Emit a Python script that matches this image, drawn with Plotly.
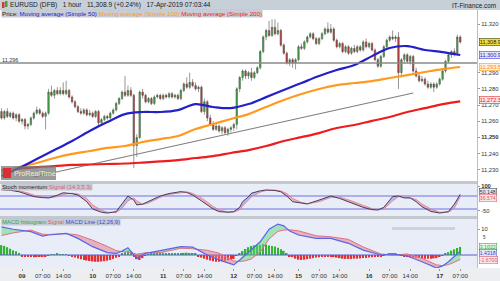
import plotly.graph_objects as go

# ------------------------------------------------------------------ data
bar_index = list(range(157))
opens = [11266,11262,11266,11263,11265,11262,11264,11260,11261,11257,
         11258,11262,11265,11267,11265,11263,11265,11278,11276,11279,
         11277,11279,11277,11279,11275,11272,11269,11266,11265,11267,
         11264,11265,11263,11266,11259,11261,11263,11262,11265,11267,
         11271,11274,11278,11276,11279,11276,11245,11250,11278,11276,
         11272,11274,11271,11275,11276,11274,11276,11275,11277,11275,
         11276,11274,11279,11283,11281,11284,11282,11280,11281,11266,
         11272,11262,11258,11255,11257,11254,11256,11253,11255,11256,
         11258,11280,11287,11291,11288,11290,11287,11290,11293,11303,
         11312,11316,11313,11318,11314,11316,11307,11302,11296,11298,
         11296,11298,11306,11305,11309,11312,11314,11311,11308,11311,
         11314,11317,11315,11317,11310,11306,11308,11303,11306,11302,
         11305,11303,11306,11304,11309,11306,11308,11304,11298,11294,
         11300,11306,11310,11312,11311,11312,11290,11298,11301,11297,
         11300,11291,11288,11285,11286,11283,11281,11283,11281,11283,
         11286,11291,11297,11301,11303,11302,11312]
highs = [11268,11267,11268,11266,11266,11265,11265,11262,11262,11259,
         11263,11266,11269,11268,11266,11266,11280,11282,11280,11281,
         11281,11284,11285,11280,11276,11273,11270,11268,11268,11268,
         11267,11266,11267,11267,11262,11264,11264,11266,11268,11272,
         11275,11279,11288,11282,11281,11277,11252,11279,11280,11277,
         11275,11275,11276,11277,11277,11277,11277,11278,11278,11277,
         11277,11280,11284,11287,11290,11286,11284,11282,11282,11274,
         11273,11264,11260,11259,11258,11257,11257,11256,11257,11259,
         11281,11288,11292,11292,11291,11293,11291,11294,11304,11313,
         11317,11322,11323,11323,11321,11317,11308,11303,11299,11299,
         11299,11307,11308,11310,11313,11315,11315,11312,11312,11315,
         11318,11321,11320,11318,11311,11309,11309,11307,11307,11306,
         11307,11307,11307,11310,11311,11309,11309,11305,11299,11301,
         11307,11311,11313,11316,11313,11315,11299,11302,11302,11301,
         11301,11293,11290,11288,11287,11285,11284,11284,11284,11287,
         11292,11298,11302,11304,11305,11313.5,11313]
lows = [11261,11261,11262,11262,11261,11260,11259,11258,11255,11255,
        11257,11261,11264,11264,11262,11255,11264,11275,11274,11276,
        11276,11276,11276,11274,11271,11268,11265,11264,11264,11263,
        11263,11262,11262,11257,11258,11260,11261,11261,11264,11266,
        11270,11273,11275,11275,11275,11231,11238,11249,11274,11271,
        11271,11270,11270,11274,11273,11273,11274,11274,11274,11274,
        11273,11273,11278,11280,11280,11281,11279,11278,11265,11264,
        11260,11257,11254,11254,11253,11252,11252,11251,11253,11254,
        11255,11278,11285,11286,11286,11285,11286,11289,11292,11302,
        11310,11312,11312,11313,11313,11306,11301,11295,11294,11293,
        11292,11297,11304,11304,11308,11311,11310,11307,11307,11310,
        11313,11314,11314,11309,11305,11305,11302,11302,11301,11301,
        11302,11302,11303,11303,11305,11305,11303,11297,11293,11293,
        11299,11305,11309,11310,11309,11280,11287,11296,11296,11295,
        11290,11287,11284,11284,11282,11280,11280,11278,11280,11282,
        11285,11290,11296,11299,11300,11301,11308]
closes = [11262,11266,11263,11265,11262,11264,11260,11261,11257,11258,
          11262,11265,11267,11265,11263,11265,11278,11276,11279,11277,
          11279,11277,11279,11275,11272,11269,11266,11265,11267,11264,
          11265,11263,11266,11259,11261,11263,11262,11265,11267,11271,
          11274,11278,11276,11279,11276,11245,11250,11278,11276,11272,
          11274,11271,11275,11276,11274,11276,11275,11277,11275,11276,
          11274,11279,11283,11281,11284,11282,11280,11281,11266,11272,
          11262,11258,11255,11257,11254,11256,11253,11255,11256,11258,
          11280,11287,11291,11288,11290,11287,11290,11293,11303,11312,
          11316,11313,11318,11314,11316,11307,11302,11296,11298,11296,
          11298,11306,11305,11309,11312,11314,11311,11308,11311,11314,
          11317,11315,11317,11310,11306,11308,11303,11306,11302,11305,
          11303,11306,11304,11309,11306,11308,11304,11298,11294,11300,
          11306,11310,11312,11311,11312,11290,11298,11301,11297,11300,
          11291,11288,11285,11286,11283,11281,11283,11281,11283,11286,
          11291,11297,11301,11303,11302,11312,11308.9]

ma_idx = [0,6,12,18,24,30,36,42,48,54,60,66,72,78,84,90,96,102,108,114,
          120,126,132,138,144,150,156]
ma50 = [11226.2,11231.1,11236.7,11242.2,11247.8,11254.0,11259.5,11264.4,
        11265.7,11265.7,11266.9,11270.6,11268.8,11268.1,11270.6,11274.9,
        11279.3,11283.6,11287.9,11291.6,11294.7,11300.2,11305.2,11306.4,
        11304.0,11302.7,11300.9]
ma100 = [11228.6,11231.7,11234.2,11237.3,11239.8,11241.6,11243.5,11244.7,
         11247.2,11249.0,11250.9,11255.2,11258.3,11261.4,11264.4,11268.8,
         11273.1,11276.8,11279.9,11282.3,11283.6,11284.8,11286.7,11288.5,
         11290.4,11292.2,11293.5]
ma200 = [11229.9,11230.8,11231.7,11232.3,11233.0,11233.3,11233.6,11233.9,
         11234.5,11235.2,11236.0,11237.3,11238.5,11240.4,11242.2,11244.7,
         11247.8,11250.2,11252.7,11255.8,11257.7,11260.2,11262.6,11265.7,
         11268.1,11270.6,11272.3]

trend_idx = [11, 140]
trend_price = [11225.6, 11277.4]
support_level = 11296

stoch_idx = [0,3,6,9,11,14,16,19,21,24,26,29,31,34,36,39,41,43,45,46,48,50,
             52,54,57,61,63,65,68,70,72,74,77,79,81,82,84,85,88,90,93,95,97,
             99,102,104,108,112,115,119,123,126,128,130,133,135,137,139,141,
             143,146,149,152,154,156]
stoch_mom = [78,75,66,50,36,30,28,45,60,54,46,5,-40,-60,-65,-56,-10,40,15,
             -15,-10,5,25,40,55,67,62,46,10,-15,-40,-56,-60,-56,-30,5,35,57,
             72,77,74,66,40,5,-5,-9,15,40,25,-3,-30,-44,-46,-30,36,40,28,28,
             5,-26,-55,-65,-56,-10,50.148]
stoch_sig = [80,78,72,58,45,34,29,36,50,57,52,25,-15,-48,-60,-62,-35,10,28,
             10,-12,-3,15,32,50,63,65,56,28,2,-25,-46,-58,-59,-45,-22,15,35,
             64,74,76,71,55,25,0,-7,5,32,33,10,-18,-38,-45,-40,10,36,33,29,
             18,-10,-40,-60,-60,-35,36.574]
stoch_levels = [40, -40]

macd_idx = [0,4,10,14,16,22,26,31,36,39,41,43,46,49,54,61,65,70,74,77,79,81,
            83,85,88,91,94,96,98,101,107,112,118,123,129,133,138,143,146,148,
            150,152,154,156]
macd_line = [10.8,9.9,9.0,7.3,7.7,8.3,6.4,3.2,0.9,0.6,1.5,2.8,-1.3,0.6,1.7,
             3.2,3.0,0.0,-1.9,-3.2,-3.8,-1.9,0.2,2.0,5.1,9.9,11.9,11.2,9.2,
             7.7,6.4,6.4,4.5,1.9,0.0,0.4,-0.4,-2.6,-4.2,-5.0,-4.2,-2.6,-0.6,
             1.4318]
macd_signal = [7.5,8.5,9.6,8.0,7.9,8.2,7.7,5.7,3.3,1.7,1.3,1.2,0.3,0.9,0.9,
               2.6,2.4,1.8,0.7,-1.0,-2.3,-2.5,-2.2,-1.5,1.2,6.2,9.1,9.6,9.7,
               9.3,7.4,7.0,6.0,3.1,0.4,-0.1,0.4,-1.3,-2.8,-3.8,-4.1,-3.7,-2.8,
               -1.67]
macd_hist = [3.8,3.5,3.0,2.4,1.8,1.4,0.8,
             -0.4,-0.6,-0.8,-0.7,-0.9,-0.8,-0.6,-0.7,-0.5,
             -0.2,0.1,
             0.3,0.4,0.3,0.2,
             0.1,-0.2,
             -0.6,-1.0,-1.3,-1.6,-1.9,-2.1,-2.3,-2.5,-2.6,-2.6,-2.5,-2.4,-2.2,
             -1.9,-1.5,-1.1,-0.6,
             0.4,1.1,1.6,1.3,
             -0.6,-1.6,-1.9,-1.2,
             -0.3,0.2,0.4,0.6,0.7,0.8,0.8,0.8,0.7,0.7,0.6,0.5,0.6,0.8,0.9,0.8,
             0.6,0.4,
             -0.4,-1.0,-1.4,-1.8,-2.1,-2.4,-2.6,-2.6,-2.4,-2.2,-2.0,-1.8,-1.5,
             -0.3,0.6,1.5,2.3,3.0,3.5,3.7,3.8,3.9,4.2,4.0,3.7,3.5,3.3,2.8,2.2,
             1.6,
             0.4,-0.5,
             -0.8,-1.4,-1.8,-1.9,-1.8,-1.6,-1.4,-1.2,-1.0,-0.9,-0.8,-0.6,-0.5,
             -0.6,-0.8,-1.0,-1.2,-1.4,-1.5,-1.5,-1.5,-1.4,-1.4,-1.3,-1.2,-1.2,
             -1.0,-0.9,-0.8,-0.6,-0.4,-0.1,
             0.2,0.4,0.5,0.4,0.2,
             -0.3,-0.6,-0.8,-0.9,-1.0,-1.1,-1.2,-1.3,-1.4,-1.4,
             -1.4,-1.3,-1.2,-0.6,-0.1,0.5,1.1,1.7,2.2,2.7,3.1]

tick_idx = [7,14,21,31,38,45,55,62,69,79,86,93,101,108,115,125,132,139,149,156]
tick_text = ["<b>09</b>","07:00","14:00","<b>10</b>","07:00","14:00",
             "<b>11</b>","07:00","14:00","<b>12</b>","07:00","14:00",
             "<b>15</b>","07:00","14:00","<b>16</b>","07:00","14:00",
             "<b>17</b>","07:00"]
price_ticks = [11230,11240,11250,11260,11270,11280,11290,11320]
price_tick_text = ["11,230","11,240","<b>11,250</b>","11,260","11,270",
                   "11,280","11,290","11,320"]
macd_ticks = [10]
macd_small_tick = 5

# ------------------------------------------------------------------ helpers
W, H = 500, 281
def px(x):
    return x / W
def py(y):
    return 1 - y / H

FONT = "Liberation Sans, Arial, sans-serif"
XR = [-0.5, 161.7]
XD = [0, px(477)]
# pixel -> value helpers for the label boxes of the two lower panels
def stoch_at(ypix):
    return (202.5 - ypix) / 0.1625
def macd_at(ypix):
    return (255 - ypix) / 2.6


def band_polygons(xs, a, b):
    """split the area between two lines into a>b and a<b polygons"""
    pos_x, pos_y, neg_x, neg_y = [], [], [], []
    for i in range(len(xs) - 1):
        x0, x1 = xs[i], xs[i + 1]
        a0, a1, b0, b1 = a[i], a[i + 1], b[i], b[i + 1]
        d0, d1 = a0 - b0, a1 - b1
        pieces = []
        if d0 * d1 < 0:
            t = d0 / (d0 - d1)
            xc = x0 + t * (x1 - x0)
            yc = a0 + t * (a1 - a0)
            pieces.append(([x0, xc, x0], [a0, yc, b0], d0))
            pieces.append(([xc, x1, x1], [yc, a1, b1], d1))
        else:
            pieces.append(([x0, x1, x1, x0], [a0, a1, b1, b0], d0 + d1))
        for qx, qy, d in pieces:
            tx, ty = (pos_x, pos_y) if d >= 0 else (neg_x, neg_y)
            tx.extend(qx + [qx[0], None])
            ty.extend(qy + [qy[0], None])
    return pos_x, pos_y, neg_x, neg_y


fig = go.Figure()

# ---------------------------------------------------------------- main panel
fig.add_trace(go.Candlestick(
    x=bar_index, open=opens, high=highs, low=lows, close=closes,
    xaxis="x", yaxis="y",
    increasing=dict(line=dict(color="#4d5a4d", width=0.6), fillcolor="#3fae3f"),
    decreasing=dict(line=dict(color="#5a4a4a", width=0.6), fillcolor="#cc3b3b"),
    whiskerwidth=0, showlegend=False, hoverinfo="skip"))

fig.add_trace(go.Scatter(x=trend_idx, y=trend_price, mode="lines",
                         line=dict(color="#7f7f7f", width=1.1),
                         xaxis="x", yaxis="y", showlegend=False))
fig.add_trace(go.Scatter(x=ma_idx, y=ma200, mode="lines", line_shape="spline",
                         line=dict(color="#ee1c1c", width=2.2),
                         xaxis="x", yaxis="y", showlegend=False))
fig.add_trace(go.Scatter(x=ma_idx, y=ma100, mode="lines", line_shape="spline",
                         line=dict(color="#ff9a1f", width=2.2),
                         xaxis="x", yaxis="y", showlegend=False))
fig.add_trace(go.Scatter(x=ma_idx, y=ma50, mode="lines", line_shape="spline",
                         line=dict(color="#2420c8", width=2.2),
                         xaxis="x", yaxis="y", showlegend=False))

# ---------------------------------------------------------------- stochastic
sp_x, sp_y, sn_x, sn_y = band_polygons(stoch_idx, stoch_mom, stoch_sig)
fig.add_trace(go.Scatter(x=sp_x, y=sp_y, mode="lines", fill="toself",
                         fillcolor="rgba(130,120,220,0.45)", line=dict(width=0),
                         xaxis="x2", yaxis="y2", showlegend=False))
fig.add_trace(go.Scatter(x=sn_x, y=sn_y, mode="lines", fill="toself",
                         fillcolor="rgba(225,120,135,0.5)", line=dict(width=0),
                         xaxis="x2", yaxis="y2", showlegend=False))
for lvl in stoch_levels:
    fig.add_trace(go.Scatter(x=XR, y=[lvl, lvl], mode="lines",
                             line=dict(color="#6f6fe6", width=1),
                             xaxis="x2", yaxis="y2", showlegend=False))
fig.add_trace(go.Scatter(x=stoch_idx, y=stoch_sig, mode="lines",
                         line=dict(color="#e08a96", width=1),
                         xaxis="x2", yaxis="y2", showlegend=False))
fig.add_trace(go.Scatter(x=stoch_idx, y=stoch_mom, mode="lines",
                         line=dict(color="#4a3d5c", width=1.0),
                         xaxis="x2", yaxis="y2", showlegend=False))

# ---------------------------------------------------------------- MACD
fig.add_trace(go.Bar(x=bar_index, y=macd_hist, width=0.55,
                     marker=dict(color=["#2fb52f" if v >= 0 else "#e23030"
                                        for v in macd_hist], line=dict(width=0)),
                     xaxis="x3", yaxis="y3", showlegend=False))
fig.add_trace(go.Scatter(x=XR, y=[0, 0], mode="lines",
                         line=dict(color="#5a5ad8", width=1),
                         xaxis="x3", yaxis="y3", showlegend=False))
mp_x, mp_y, mn_x, mn_y = band_polygons(macd_idx, macd_line, macd_signal)
fig.add_trace(go.Scatter(x=mp_x, y=mp_y, mode="lines", fill="toself",
                         fillcolor="rgba(90,215,120,0.5)", line=dict(width=0),
                         xaxis="x3", yaxis="y3", showlegend=False))
fig.add_trace(go.Scatter(x=mn_x, y=mn_y, mode="lines", fill="toself",
                         fillcolor="rgba(230,120,135,0.5)", line=dict(width=0),
                         xaxis="x3", yaxis="y3", showlegend=False))
fig.add_trace(go.Scatter(x=macd_idx, y=macd_signal, mode="lines",
                         line=dict(color="#e0707e", width=1),
                         xaxis="x3", yaxis="y3", showlegend=False))
fig.add_trace(go.Scatter(x=macd_idx, y=macd_line, mode="lines",
                         line=dict(color="#5a64e8", width=1.2),
                         xaxis="x3", yaxis="y3", showlegend=False))

# ---------------------------------------------------------------- shapes
shapes = []
def rect(x0, y0, x1, y1, color, layer="below", line=None):
    shapes.append(dict(type="rect", xref="paper", yref="paper",
                       x0=px(x0), x1=px(x1), y0=py(y1), y1=py(y0),
                       fillcolor=color, layer=layer,
                       line=line or dict(width=0)))

rect(0, 0, 500, 10, "#c7cfd9", layer="above")            # header
rect(0, 181, 477, 184, "#c3c8cf")                         # separators
rect(0, 216, 477, 219, "#c3c8cf")
rect(0, 184, 477, 216, "#e8edf7")                         # stoch bg
rect(0, 219, 477, 268, "#e8edf7")                         # macd bg
rect(0, 268, 500, 281, "#eceef2")                         # time axis strip
rect(477, 10, 478, 268, "#b8bec6")                        # axis border
rect(392, 227, 455, 230, "#cfd2d6", layer="above")        # macd marker bar
# header icon
rect(2, 2, 4.5, 8, "#d23a2a", layer="above")
rect(5, 1, 7.5, 7, "#3aa53a", layer="above")
# ProRealTime badge
rect(1, 166, 56, 180, "rgba(120,120,120,0.75)", layer="above")
rect(3, 168, 11, 178, "#d83030", layer="above")
# horizontal support line
shapes.append(dict(type="line", xref="paper", yref="y", x0=0, x1=px(477),
                   y0=support_level, y1=support_level,
                   line=dict(color="#8a8a8a", width=1.4), layer="above"))

# ---------------------------------------------------------------- annotations
ann = []
def text(x, y, s, size=6.5, color="#222", anchor="left", bg=None):
    ann.append(dict(xref="paper", yref="paper", x=px(x), y=py(y), text=s,
                    showarrow=False, xanchor=anchor, yanchor="middle",
                    font=dict(family=FONT, size=size, color=color),
                    bgcolor=bg, borderpad=0))

text(9, 5, "EURUSD (DFB)&nbsp;&nbsp;&nbsp;1 hour&nbsp;&nbsp;&nbsp;11,308.9 (+0.24%)"
     "&nbsp;&nbsp;&nbsp;17-Apr-2019 07:03:44", size=6.6, color="#1b1b1b")
text(497, 5, "IT-Finance.com", size=6.4, color="#1b1b1b", anchor="right")
text(1, 13.5, "Price: <span style='color:#2420c8'>Moving average (Simple 50)</span> "
     "<span style='color:#ff9a1f'>Moving average (Simple 100)</span> "
     "<span style='color:#ee1c1c'>Moving average (Simple 200)</span>",
     size=6.2, color="#222", bg="rgba(190,196,206,0.85)")
text(1, 60, "11,296", size=5.5, color="#333")
text(12.5, 173, "ProRealTime", size=7.2, color="#f4ecc4")
text(1, 186.5, "Stoch momentum <span style='color:#e05a6a'>Signal (14,3,5,3)</span>",
     size=5.8, color="#222", bg="rgba(190,196,206,0.85)")
text(1, 222.5, "<span style='color:#2fa83a'>MACD histogram</span> "
     "<span style='color:#e05a6a'>Signal</span> "
     "<span style='color:#3c46d8'>MACD Line (12,26,9)</span>",
     size=5.8, color="#222", bg="rgba(190,196,206,0.85)")
# the tiny "5" tick of the MACD scale
ann.append(dict(xref="paper", yref="y3", x=px(481), y=macd_small_tick,
                text=str(macd_small_tick), showarrow=False, xanchor="left",
                yanchor="bottom", font=dict(family=FONT, size=4.6, color="#333")))

# value boxes on the right axis
def vbox(val, label, color, bg, yref, size=5.5):
    ann.append(dict(xref="paper", yref=yref, x=px(478.5), y=val, text=label,
                    showarrow=False, xanchor="left", yanchor="middle",
                    font=dict(family=FONT, size=size, color=color),
                    bgcolor=bg, bordercolor=color, borderwidth=0.5, borderpad=0.3))

vbox(closes[-1], "11,308.9", "#222", "#f3dc3c", "y")
vbox(ma50[-1], "11,300.9", "#2420c8", "#e4e6f6", "y")
vbox(ma100[-1], "11,293.5", "#ff8a00", "#fbf0e2", "y")
vbox(ma200[-1] + 0.6, "11,272.3", "#e01010", "#fbe6e6", "y")
vbox(stoch_at(192), "50.148", "#333", "#e6e8f4", "y2", 5.2)
vbox(stoch_at(198.5), "36.574", "#e0505e", "#fbe8ea", "y2", 5.2)
vbox(macd_at(246.8), "3.1022", "#2a9a3a", "#e4f6e6", "y3", 5.2)
vbox(macd_at(253.0), "1.4318", "#3c46d8", "#e4e6f6", "y3", 5.2)
vbox(macd_at(259.6), "-1.6700", "#e0505e", "#fbe8ea", "y3", 5.2)

axis_common = dict(showgrid=False, zeroline=False, showline=False)
tickfont = dict(family=FONT, size=5.8, color="#333")

fig.update_layout(
    width=W, height=H, margin=dict(l=0, r=0, t=0, b=0),
    paper_bgcolor="white", plot_bgcolor="rgba(0,0,0,0)",
    showlegend=False, barmode="overlay",
    shapes=shapes, annotations=ann,
    xaxis=dict(domain=XD, range=XR, anchor="y", showticklabels=False,
               rangeslider=dict(visible=False), ticks="", **axis_common),
    xaxis2=dict(domain=XD, range=XR, anchor="y2", matches="x",
                showticklabels=False, ticks="", **axis_common),
    xaxis3=dict(domain=XD, range=XR, anchor="y3", matches="x",
                tickmode="array", tickvals=tick_idx, ticktext=tick_text,
                ticks="outside", ticklen=2, tickcolor="#999",
                tickfont=dict(family=FONT, size=6.2, color="#333"),
                **axis_common),
    yaxis=dict(domain=[py(181), py(9)], range=[11223.1, 11329.3], anchor="x",
               side="right", tickmode="array", tickvals=price_ticks,
               ticktext=price_tick_text, ticks="outside", ticklen=2,
               tickcolor="#999", tickfont=tickfont, **axis_common),
    yaxis2=dict(domain=[py(216), py(184)], range=[-83.1, 113.8], anchor="x2",
                side="right", tickmode="array", tickvals=[100, -50],
                ticktext=["<b>100</b>", "-50"], ticks="outside", ticklen=2,
                tickcolor="#999", tickfont=tickfont, **axis_common),
    yaxis3=dict(domain=[py(268), py(219)], range=[-5.0, 13.85], anchor="x3",
                side="right", tickmode="array", tickvals=macd_ticks,
                ticktext=[str(v) for v in macd_ticks], ticks="outside",
                ticklen=2, tickcolor="#999", tickfont=tickfont, **axis_common),
)

fig.write_html("out.html", config={"displayModeBar": False},
               post_script="document.body.style.margin='0px';"
                           "document.body.style.padding='0px';"
                           "document.body.style.overflow='hidden';")
